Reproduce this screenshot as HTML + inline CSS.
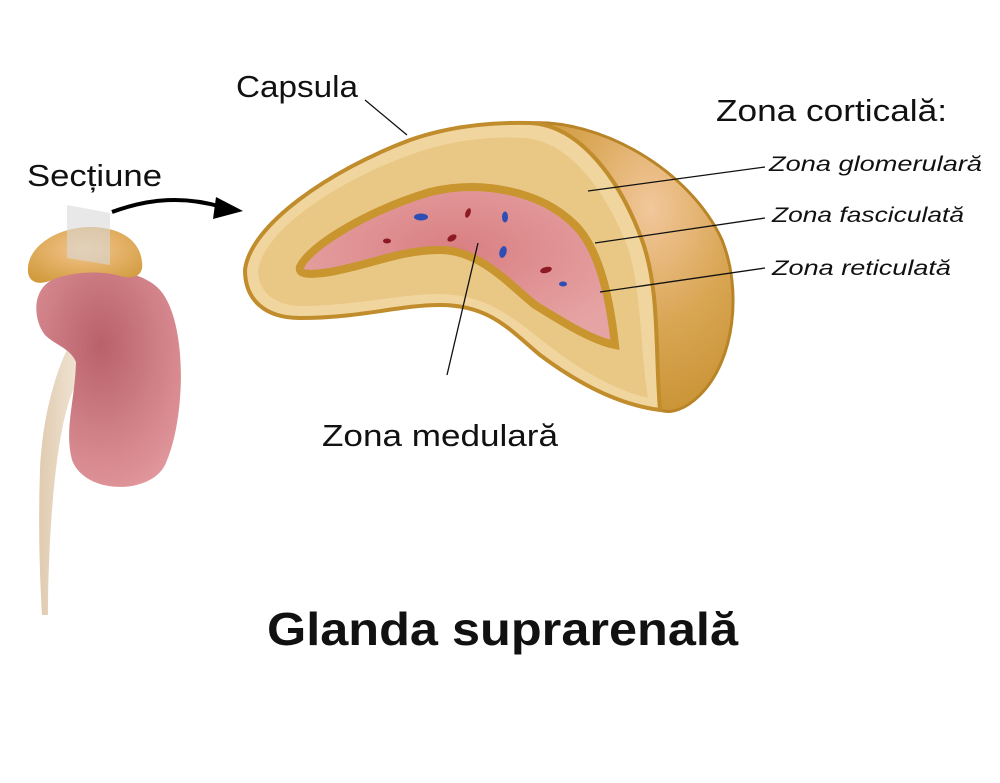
<!DOCTYPE html>
<html><head><meta charset="utf-8"><style>
html,body{margin:0;padding:0;background:#fff;}
svg{display:block}
text{font-family:"Liberation Sans",sans-serif;fill:#111}
</style></head><body>
<svg width="1000" height="783" viewBox="0 0 1000 783" xmlns="http://www.w3.org/2000/svg">
<defs>
<radialGradient id="kid" cx="0.45" cy="0.35" r="0.7"><stop offset="0" stop-color="#b9616c"/><stop offset="1" stop-color="#e0969a"/></radialGradient>
<linearGradient id="ure" x1="0" x2="1"><stop offset="0" stop-color="#e0cbb0"/><stop offset="1" stop-color="#f7efe4"/></linearGradient>
<radialGradient id="dome" cx="0.6" cy="0.3" r="0.8"><stop offset="0" stop-color="#f2c79b"/><stop offset="0.5" stop-color="#d9a654"/><stop offset="1" stop-color="#c68f2e"/></radialGradient>
<radialGradient id="med" cx="0.5" cy="0.4" r="0.6"><stop offset="0" stop-color="#d97f82"/><stop offset="1" stop-color="#e6a3a3"/></radialGradient>
<radialGradient id="adr" cx="0.5" cy="0.4" r="0.7"><stop offset="0" stop-color="#f3c58d"/><stop offset="1" stop-color="#d19a3c"/></radialGradient>
</defs>

<!-- ureter -->
<path d="M72,340 C55,370 42,420 40,470 C38,530 40,580 42,615 L48,615 C48,560 52,480 62,430 C70,390 80,370 95,360 Z" fill="url(#ure)"/>
<!-- kidney -->
<path d="M40,292 C55,262 135,262 160,290 C188,322 186,420 165,465 C150,495 85,495 72,460 C64,430 75,400 76,362 C70,348 55,345 45,335 C35,322 34,303 40,292 Z" fill="url(#kid)"/>
<!-- adrenal -->
<path d="M28,272 C26,245 60,227 90,227 C120,227 140,240 142,262 C144,275 135,280 120,276 C100,270 70,272 52,280 C38,286 29,282 28,272 Z" fill="url(#adr)"/>
<path d="M67,205 L110,213 L110,265 L67,258 Z" fill="#d8d8d8" opacity="0.6"/>

<!-- arrow -->
<path d="M112,212 C150,198 185,196 222,207" fill="none" stroke="#000" stroke-width="4"/>
<path d="M216,197 L243,211 L213,219 Z" fill="#000"/>

<!-- gland dome -->
<path d="M527,123 C600,118 690,170 722,240 C742,290 735,360 700,395 C685,410 670,414 660,410 Z" fill="url(#dome)" stroke="#b88427" stroke-width="3"/>
<!-- face -->
<path d="M245,270 C250,225 330,170 410,140 C450,126 490,122 530,123 C580,125 620,180 642,240 C660,290 655,350 660,410 C620,405 580,385 540,355 C510,330 490,305 440,305 C400,305 360,318 300,318 C265,318 245,300 245,270 Z" fill="#f1d59e" stroke="#c08c2c" stroke-width="4"/>
<path d="M258,270 C265,230 335,182 410,155 C450,140 490,136 525,138 C570,142 605,190 627,245 C642,290 640,350 648,398 C615,390 580,370 548,345 C515,320 490,295 440,294 C400,294 360,305 302,306 C275,306 258,292 258,270 Z" fill="#e9c886"/>
<!-- medulla -->
<path d="M300,267 C310,245 370,210 430,192 C480,180 540,190 575,225 C600,250 610,300 615,345 C590,340 560,320 535,305 C510,285 480,250 440,250 C400,250 370,265 330,272 C310,275 298,275 300,267 Z" fill="url(#med)" stroke="#c8952e" stroke-width="8"/>
<!-- vessels -->
<ellipse cx="421" cy="217" rx="7" ry="3.5" fill="#2d4fb5"/>
<ellipse cx="468" cy="213" rx="2.5" ry="5" fill="#8c1a22" transform="rotate(20 468 213)"/>
<ellipse cx="505" cy="217" rx="3" ry="5.5" fill="#2d4fb5"/>
<ellipse cx="387" cy="241" rx="4" ry="2.5" fill="#8c1a22"/>
<ellipse cx="452" cy="238" rx="5" ry="3" fill="#8c1a22" transform="rotate(-30 452 238)"/>
<ellipse cx="503" cy="252" rx="3.5" ry="6" fill="#2d4fb5" transform="rotate(15 503 252)"/>
<ellipse cx="546" cy="270" rx="6" ry="3" fill="#8c1a22" transform="rotate(-15 546 270)"/>
<ellipse cx="563" cy="284" rx="4" ry="2.5" fill="#2d4fb5"/>

<!-- leader lines -->
<g stroke="#111" stroke-width="1.3">
<line x1="365" y1="100" x2="407" y2="135"/>
<line x1="588" y1="191" x2="765" y2="167"/>
<line x1="595" y1="243" x2="765" y2="218"/>
<line x1="600" y1="292" x2="765" y2="268"/>
<line x1="478" y1="243" x2="447" y2="375"/>
</g>

<text x="236" y="97" font-size="31" textLength="122" lengthAdjust="spacingAndGlyphs">Capsula</text>
<text x="27" y="186" font-size="31" textLength="135" lengthAdjust="spacingAndGlyphs">Secțiune</text>
<text x="716" y="121" font-size="31" textLength="231" lengthAdjust="spacingAndGlyphs">Zona corticală:</text>
<text x="769" y="171" font-size="21" font-style="italic" textLength="213" lengthAdjust="spacingAndGlyphs">Zona glomerulară</text>
<text x="772" y="222" font-size="21" font-style="italic" textLength="192" lengthAdjust="spacingAndGlyphs">Zona fasciculată</text>
<text x="772" y="275" font-size="21" font-style="italic" textLength="179" lengthAdjust="spacingAndGlyphs">Zona reticulată</text>
<text x="322" y="446" font-size="31" textLength="236" lengthAdjust="spacingAndGlyphs">Zona medulară</text>
<text x="267" y="645" font-size="46" font-weight="bold" textLength="471" lengthAdjust="spacingAndGlyphs">Glanda suprarenală</text>
</svg>
</body></html>
